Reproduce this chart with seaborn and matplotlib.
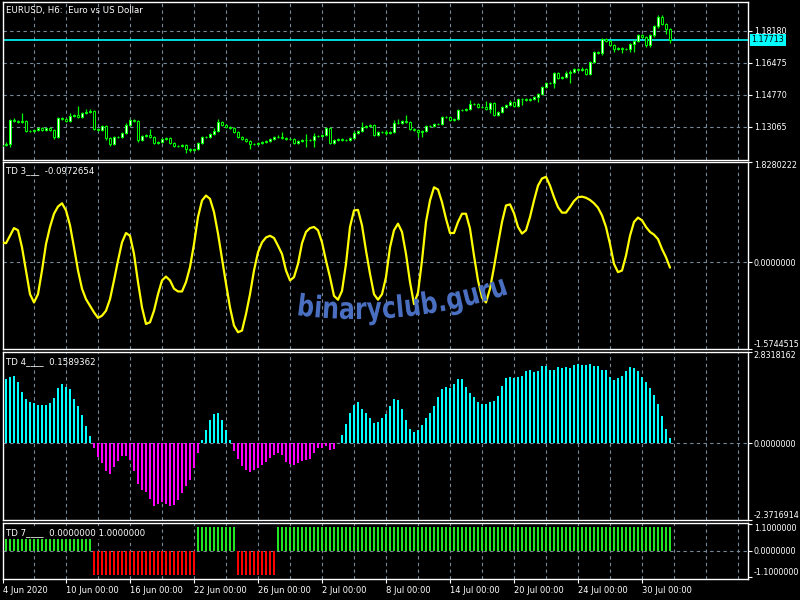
import numpy as np
import matplotlib
matplotlib.use("Agg")
import matplotlib.pyplot as plt
import seaborn as sns
from matplotlib.textpath import TextPath
from matplotlib.font_manager import FontProperties
from matplotlib.patches import PathPatch
from matplotlib.path import Path
from matplotlib.transforms import IdentityTransform

# ---- data (EURUSD H6, 4 Jun - 31 Jul 2020) ----
first_open = 1.12050
closes = [
    1.12106, 1.12159, 1.13438, 1.13402, 1.13349, 1.13402, 1.12870, 1.12870, 1.12905, 1.12994, 1.12905, 1.12994,
    1.12905, 1.12550, 1.13527, 1.13473, 1.13402, 1.13651, 1.13704, 1.13616, 1.13793, 1.13882, 1.13935, 1.12941,
    1.12905, 1.13118, 1.12461, 1.12159, 1.12514, 1.12550, 1.12728, 1.13172, 1.13438, 1.13402, 1.12372, 1.12585,
    1.12639, 1.12550, 1.12195, 1.12284, 1.12408, 1.12461, 1.12195, 1.12053, 1.12070, 1.12106, 1.11875, 1.11840,
    1.11893, 1.12230, 1.12514, 1.12550, 1.12692, 1.12870, 1.13349, 1.13172, 1.13083, 1.12994, 1.12816, 1.12550,
    1.12443, 1.12301, 1.12141, 1.12159, 1.12195, 1.12284, 1.12337, 1.12443, 1.12514, 1.12550, 1.12479, 1.12443,
    1.12408, 1.12195, 1.12301, 1.12372, 1.12355, 1.12390, 1.12585, 1.12585, 1.12621, 1.12994, 1.12230, 1.12372,
    1.12408, 1.12390, 1.12372, 1.12479, 1.12763, 1.12870, 1.13083, 1.13118, 1.13154, 1.12639, 1.12799, 1.12781,
    1.12728, 1.12799, 1.13260, 1.13260, 1.13402, 1.13331, 1.12941, 1.12905, 1.12816, 1.12870, 1.13118, 1.13136,
    1.13207, 1.13225, 1.13616, 1.13580, 1.13438, 1.13491, 1.13971, 1.13971, 1.14042, 1.14290, 1.14273, 1.14148,
    1.14113, 1.14006, 1.14326, 1.13704, 1.13864, 1.14148, 1.14219, 1.14397, 1.14184, 1.14575, 1.14539, 1.14504,
    1.14575, 1.14646, 1.14823, 1.15214, 1.15392, 1.15427, 1.15924, 1.15658, 1.15711, 1.15960, 1.16013, 1.16137,
    1.16102, 1.16173, 1.15889, 1.16528, 1.17079, 1.16990, 1.17736, 1.17665, 1.17452, 1.17239, 1.17256, 1.17203,
    1.17221, 1.17470, 1.17665, 1.17949, 1.17842, 1.17416, 1.17985, 1.18446, 1.18908, 1.18535, 1.18269, 1.17713,
]
# wick lengths above / below the body, in pips
wick_up = [
    6, 8, 6, 12, 6, 40, 6, 6, 6, 6, 6, 6,
    6, 6, 8, 6, 6, 15, 6, 50, 8, 12, 10, 6,
    6, 6, 6, 6, 6, 6, 6, 8, 6, 6, 6, 6,
    6, 30, 6, 6, 6, 6, 6, 6, 6, 6, 6, 6,
    6, 6, 6, 6, 6, 15, 15, 6, 6, 6, 6, 6,
    6, 6, 6, 6, 6, 6, 6, 6, 6, 10, 25, 6,
    6, 6, 6, 6, 30, 6, 15, 6, 6, 6, 6, 6,
    6, 6, 6, 6, 10, 6, 25, 6, 6, 6, 6, 6,
    15, 6, 20, 25, 6, 30, 6, 6, 6, 6, 6, 6,
    6, 6, 6, 6, 6, 6, 6, 6, 6, 20, 6, 6,
    6, 35, 6, 6, 6, 6, 6, 12, 6, 6, 6, 6,
    6, 6, 6, 6, 6, 6, 6, 6, 6, 8, 8, 8,
    8, 8, 6, 6, 6, 6, 6, 6, 6, 6, 6, 6,
    6, 6, 6, 6, 6, 6, 6, 8, 14, 15, 6, 6,
]
wick_dn = [
    10, 6, 15, 6, 6, 6, 6, 6, 6, 6, 6, 6,
    6, 10, 6, 6, 6, 6, 6, 6, 6, 6, 6, 6,
    6, 6, 8, 10, 6, 6, 6, 6, 6, 6, 10, 6,
    6, 6, 6, 6, 6, 6, 6, 6, 6, 6, 20, 12,
    6, 6, 6, 6, 6, 6, 6, 6, 6, 6, 6, 6,
    6, 6, 25, 6, 6, 6, 6, 6, 6, 6, 6, 6,
    6, 6, 6, 6, 35, 6, 40, 6, 6, 6, 6, 6,
    6, 6, 6, 6, 6, 6, 6, 6, 6, 8, 6, 6,
    10, 6, 6, 6, 6, 6, 6, 6, 30, 30, 6, 6,
    6, 6, 6, 6, 6, 6, 6, 6, 6, 6, 6, 6,
    6, 6, 20, 6, 6, 6, 6, 6, 6, 6, 30, 6,
    6, 6, 25, 6, 6, 6, 30, 6, 6, 6, 55, 6,
    6, 6, 8, 6, 6, 6, 10, 6, 6, 20, 6, 20,
    6, 15, 40, 6, 6, 8, 10, 15, 12, 6, 25, 15,
]
td3 = [
    0.36, 0.345, 0.48, 0.62, 0.58, 0.27, -0.15, -0.58, -0.73, -0.58, -0.15, 0.33,
    0.64, 0.88, 1.01, 1.07, 0.94, 0.67, 0.27, -0.15, -0.48, -0.67, -0.79, -0.91,
    -1.01, -0.97, -0.88, -0.67, -0.33, 0.03, 0.36, 0.53, 0.48, 0.15, -0.36, -0.82,
    -1.12, -1.09, -0.88, -0.58, -0.33, -0.26, -0.33, -0.48, -0.53, -0.53, -0.36, -0.09,
    0.33, 0.82, 1.12, 1.21, 1.15, 0.91, 0.52, 0.06, -0.39, -0.82, -1.15, -1.27,
    -1.24, -0.94, -0.58, -0.15, 0.18, 0.36, 0.45, 0.48, 0.44, 0.30, 0.15, -0.15,
    -0.33, -0.27, -0.03, 0.345, 0.55, 0.62, 0.64, 0.58, 0.36, 0.03, -0.27, -0.61,
    -0.68, -0.52, -0.03, 0.64, 0.94, 0.95, 0.67, 0.21, -0.21, -0.58, -0.68, -0.58,
    -0.27, 0.27, 0.58, 0.70, 0.55, 0.15, -0.36, -0.76, -0.55, 0.03, 0.73, 1.12,
    1.36, 1.32, 1.09, 0.79, 0.53, 0.53, 0.73, 0.88, 0.88, 0.61, 0.12, -0.33,
    -0.64, -0.73, -0.48, -0.09, 0.33, 0.73, 1.03, 1.05, 0.89, 0.64, 0.52, 0.58,
    0.82, 1.12, 1.39, 1.52, 1.55, 1.39, 1.18, 1.00, 0.90, 0.90, 1.00, 1.11,
    1.18, 1.19, 1.17, 1.13, 1.07, 0.99, 0.85, 0.64, 0.33, -0.03, -0.18, -0.15,
    0.12, 0.48, 0.73, 0.81, 0.76, 0.64, 0.55, 0.50, 0.42, 0.24, 0.09, -0.0972654,
]
td4 = [
    1.95, 1.98, 2.03, 2.09, 1.875, 1.59, 1.375, 1.27, 1.25, 1.19, 1.17, 1.17,
    1.25, 1.385, 1.70, 1.84, 1.75, 1.67, 1.375, 1.15, 0.885, 0.54, 0.22, -0.16,
    -0.44, -0.60, -0.86, -0.94, -0.74, -0.55, -0.40, -0.40, -0.52, -0.86, -1.25, -1.46,
    -1.51, -1.72, -1.93, -1.875, -1.83, -1.875, -1.93, -1.90, -1.74, -1.54, -1.33, -1.15,
    -0.78, -0.31, 0.09, 0.41, 0.73, 0.91, 0.94, 0.71, 0.41, 0.09, -0.24, -0.50,
    -0.70, -0.83, -0.90, -0.83, -0.78, -0.68, -0.58, -0.46, -0.36, -0.31, -0.36, -0.58,
    -0.63, -0.68, -0.60, -0.56, -0.52, -0.48, -0.29, -0.15, -0.15, -0.10, -0.21, -0.19,
    0.02, 0.26, 0.59, 0.94, 1.19, 1.28, 1.06, 0.94, 0.78, 0.625, 0.66, 0.78,
    0.91, 1.16, 1.375, 1.34, 1.06, 0.72, 0.44, 0.34, 0.41, 0.56, 0.78, 0.94,
    1.16, 1.44, 1.66, 1.75, 1.72, 1.84, 1.97, 1.97, 1.75, 1.56, 1.44, 1.28,
    1.22, 1.22, 1.28, 1.31, 1.47, 1.78, 2.00, 2.03, 2.01, 2.03, 2.09, 2.22,
    2.25, 2.19, 2.22, 2.375, 2.375, 2.25, 2.25, 2.34, 2.31, 2.34, 2.31, 2.41,
    2.44, 2.41, 2.41, 2.44, 2.375, 2.375, 2.25, 2.25, 2.03, 1.94, 2.00, 2.09,
    2.22, 2.34, 2.31, 2.22, 2.03, 1.875, 1.72, 1.50, 1.22, 0.84, 0.44, 0.1589362,
]
td7 = [1] * 23 + [-1] * 26 + [1] * 10 + [-1] * 10 + [1] * 99

price_ticks = [1.13065, 1.14770, 1.16475, 1.18180]
last_price = 1.17713
date_ticks = [0.25, 16, 32, 48, 64, 80, 96, 112, 128, 144, 160]
date_labels = ["4 Jun 2020", "10 Jun 00:00", "16 Jun 00:00", "22 Jun 00:00", "26 Jun 00:00",
               "2 Jul 00:00", "8 Jul 00:00", "14 Jul 00:00", "20 Jul 00:00", "24 Jul 00:00",
               "30 Jul 00:00"]

LIME = "#00ff00"
GRID = "#778899"
bars = np.arange(len(closes))
closes = np.array(closes)
opens = np.concatenate([[first_open], closes[:-1]])
highs = np.maximum(opens, closes) + np.array(wick_up) * 1e-4
lows = np.minimum(opens, closes) - np.array(wick_dn) * 1e-4

sns.set_theme(style="dark", rc={"axes.facecolor": "black", "figure.facecolor": "black",
                                "axes.edgecolor": "white", "text.color": "white"})
plt.rcParams["font.family"] = ["DejaVu Sans"]
plt.rcParams["axes.unicode_minus"] = False

fig = plt.figure(figsize=(8, 6), dpi=100)


def panel(top, bottom):
    ax = fig.add_axes([3 / 800, 1 - bottom / 600, 745 / 800, (bottom - top) / 600])
    ax.set_facecolor("black")
    for s in ax.spines.values():
        s.set_color("white")
        s.set_linewidth(1.0)
    ax.set_xlim(0.25, 186.5)
    ax.grid(False)
    ax.yaxis.tick_right()
    ax.tick_params(axis="y", right=True, left=False, colors="white", labelsize=5.8,
                   length=3, width=0.8, pad=1.2)
    ax.tick_params(axis="x", bottom=False, labelbottom=False)
    for g in range(8, 187, 8):
        ax.axvline(g, color=GRID, lw=0.8, ls=(0, (3, 3)), zorder=0)
    ax.set_xlabel("")
    ax.set_ylabel("")
    return ax


# ---- price panel ----
ax1 = panel(2, 159.5)
ax1.set_ylim(1.11333, 1.19725)
for p in price_ticks:
    ax1.axhline(p, color=GRID, lw=0.8, ls=(0, (3, 3)), zorder=0)
ax1.axhline(last_price, color="#00ffff", lw=1.2, zorder=1)
ax1.vlines(bars, lows, highs, color=LIME, lw=0.9, zorder=2)
body_lo = np.minimum(opens, closes)
body_h = np.maximum(np.abs(closes - opens), 0.00006)
body_fc = ["white" if c >= o else "black" for o, c in zip(opens, closes)]
ax1.bar(bars, body_h, bottom=body_lo, width=0.65, color=body_fc, edgecolor=LIME,
        linewidth=0.7, zorder=3)
ax1.set_yticks(price_ticks)
ax1.set_yticklabels([f"{p:.5f}" for p in price_ticks])
ax1.annotate(f"{last_price:.5f}", xy=(1, last_price), xycoords=("axes fraction", "data"),
             xytext=(2.5, 0), textcoords="offset points", va="center", ha="left",
             fontsize=5.8, color="black",
             bbox=dict(boxstyle="square,pad=0.2", fc="#00ffff", ec="none"))

# ---- TD 3 line ----
ax2 = panel(161.5, 349)
ax2.set_ylim(-1.5744515, 1.8280222)
ax2.axhline(0, color=GRID, lw=0.8, ls=(0, (3, 3)), zorder=0)
sns.lineplot(x=bars, y=td3, color="#ffff00", lw=1.6, ax=ax2, legend=False, zorder=3)
ax2.set_yticks([-1.5744515, 0, 1.8280222])
ax2.set_yticklabels(["-1.5744515", "0.0000000", "1.8280222"])
lbl = ax2.get_yticklabels()
lbl[0].set_va("bottom")
lbl[2].set_va("top")

# ---- TD 4 histogram ----
ax3 = panel(351.5, 520)
ax3.set_ylim(-2.3716914, 2.8318162)
ax3.axhline(0, color=GRID, lw=0.8, ls=(0, (3, 3)), zorder=0)
hist_c = ["#00ffff" if v >= 0 else "#ff00ff" for v in td4]
ax3.bar(bars, td4, width=0.5, color=hist_c, linewidth=0, zorder=2)
ax3.set_yticks([-2.3716914, 0, 2.8318162])
ax3.set_yticklabels(["-2.3716914", "0.0000000", "2.8318162"])
lbl = ax3.get_yticklabels()
lbl[0].set_va("bottom")
lbl[2].set_va("top")

# ---- TD 7 signal ----
ax4 = panel(522.5, 579)
ax4.set_ylim(-1.17, 1.17)
ax4.axhline(0, color=GRID, lw=0.8, ls=(0, (3, 3)), zorder=0)
sig_c = ["#22e622" if v > 0 else "#ff0000" for v in td7]
ax4.bar(bars, td7, width=0.5, color=sig_c, linewidth=0, zorder=2)
ax4.set_yticks([-1.1, 0, 1.1])
ax4.set_yticklabels(["-1.1000000", "0.0000000", "1.1000000"])
lbl = ax4.get_yticklabels()
lbl[0].set_va("bottom")
lbl[2].set_va("top")
ax4.set_xticks(date_ticks)
ax4.set_xticklabels(date_labels, ha="left")
ax4.tick_params(axis="x", bottom=True, labelbottom=True, colors="white", labelsize=6,
                length=3, width=0.8, pad=2)

# ---- window captions ----
fig.text(6 / 800, 1 - 10 / 600, "EURUSD, H6:  Euro vs US Dollar", fontsize=6.2,
         va="center", color="white")
fig.text(6 / 800, 1 - 171 / 600, "TD 3___  -0.0972654", fontsize=6.2, va="center", color="white")
fig.text(6 / 800, 1 - 362 / 600, "TD 4____  0.1589362", fontsize=6.2, va="center", color="white")
fig.text(6 / 800, 1 - 533 / 600, "TD 7____  0.0000000 1.0000000", fontsize=6.2, va="center",
         color="white", zorder=10,
         bbox=dict(boxstyle="square,pad=0.15", fc="black", ec="none"))

# ---- arched watermark ----
tp = TextPath((0, 0), "binaryclub.guru", size=1,
              prop=FontProperties(family="DejaVu Sans", weight="bold"))
ext = tp.get_extents()
v = tp.vertices.copy()
tx = 298 + (v[:, 0] - ext.x0) * (212 / ext.width)
ty = v[:, 1] * 30
R = 470.0
x_low, base = 357.0, 600 - 319.0
phi = (tx - x_low) / R
rad = R - ty
wx = x_low + rad * np.sin(phi)
wy = base + R - rad * np.cos(phi)
fig.add_artist(PathPatch(Path(np.column_stack([wx, wy]), tp.codes),
                         transform=IdentityTransform(), fc="#4a6fc0", ec="none", zorder=20))

fig.savefig("out.png", dpi=100, facecolor="black")
